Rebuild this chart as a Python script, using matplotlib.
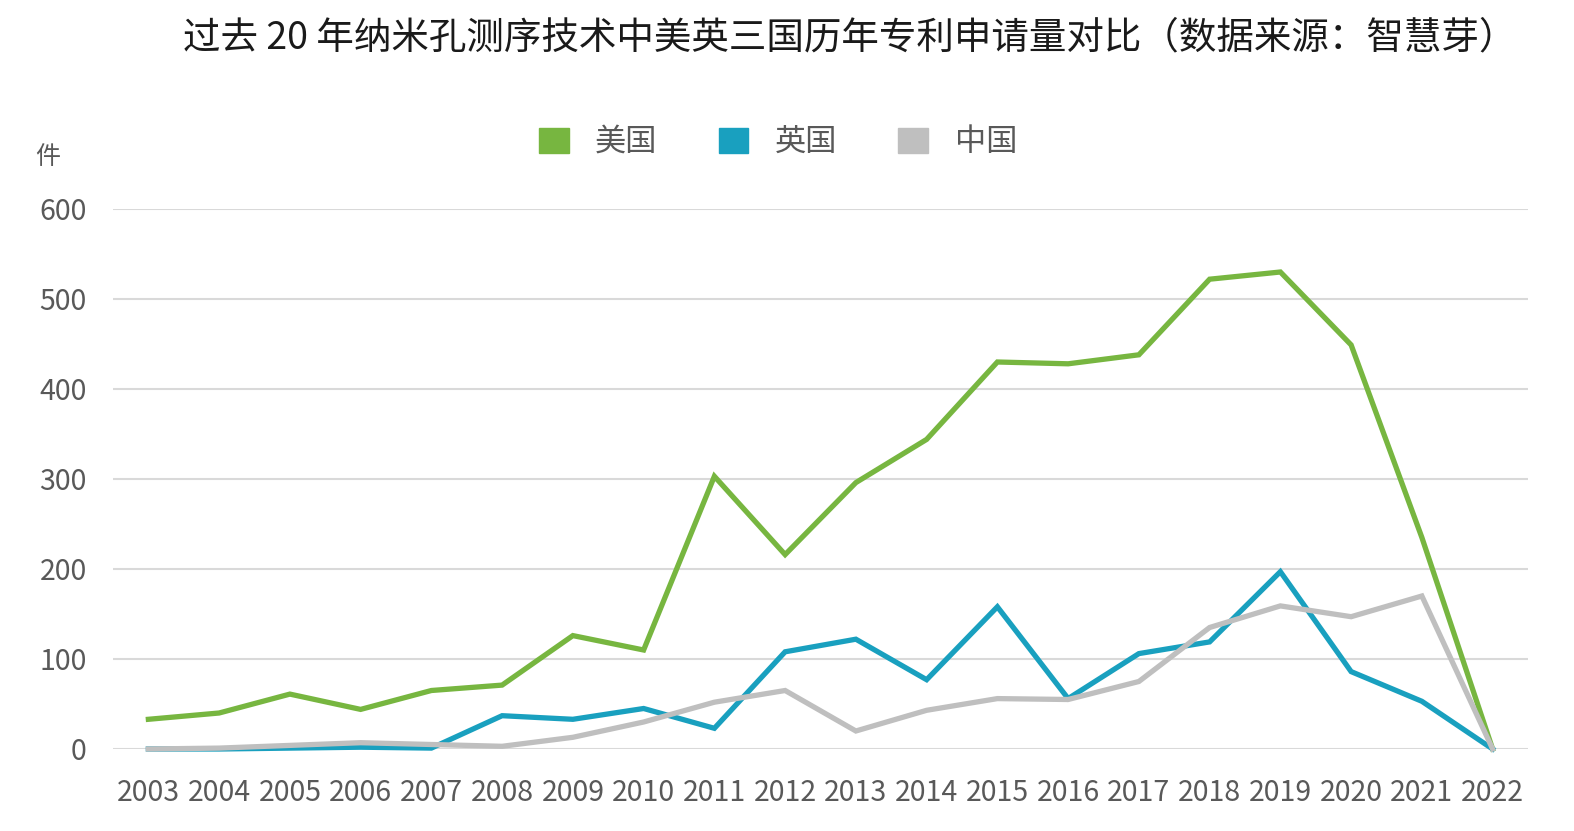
import matplotlib
matplotlib.use("Agg")
import matplotlib.pyplot as plt

plt.rcParams['font.family'] = ['Noto Sans CJK SC', 'DejaVu Sans']

years = list(range(2003, 2023))
us = [33, 40, 61, 44, 65, 71, 126, 110, 303, 216, 296, 344, 430, 428, 438, 522, 530, 449, 235, 0]
uk = [0, 0, 1, 2, 1, 37, 33, 45, 23, 108, 122, 77, 158, 56, 106, 119, 197, 86, 53, 0]
cn = [0, 1, 4, 7, 5, 3, 13, 30, 52, 65, 20, 43, 56, 55, 75, 135, 159, 147, 170, 0]
series_names = ['美国', '英国', '中国']
colors = ['#77b640', '#19a0bf', '#bfbfbf']
title = '过去 20 年纳米孔测序技术中美英三国历年专利申请量对比（数据来源：智慧芽）'
yticks = [0, 100, 200, 300, 400, 500, 600]

fig = plt.figure(figsize=(15.74, 8.31), dpi=100)
ax = fig.add_axes([113/1574, 1-749/831, (1528-113)/1574, (749-209)/831])

for vals, name, c in zip([us, uk, cn], series_names, colors):
    ax.plot(years, vals, color=c, lw=3.8, label=name, solid_joinstyle='miter', zorder=3)

ax.set_xlim(2002.5, 2022.5)
ax.set_ylim(0, 600)
ax.set_yticks(yticks)
ax.set_xticks(years)
ax.set_xticklabels([str(y) for y in years])
ax.grid(axis='y', color='#d9d9d9', lw=1.5, zorder=0)
for s in ax.spines.values():
    s.set_visible(False)
ax.tick_params(axis='both', length=0, labelsize=20.5, labelcolor='#595959')
ax.tick_params(axis='y', pad=19)
ax.tick_params(axis='x', pad=21)
for lab in ax.get_xticklabels() + ax.get_yticklabels():
    lab.set_fontweight('light')
for line in ax.lines:
    line.set_clip_on(False)

fig.text(48/1574, 1-157/831, '件', fontsize=18, color='#595959', ha='center', va='center', fontweight='light')
fig.text(850/1574, 1-38/831, title, fontsize=27, color='#1a1a1a', ha='center', va='center', fontweight='medium')

handles = [plt.Rectangle((0, 0), 1, 1, color=c) for c in colors]
fig.legend(handles, series_names, loc='center', bbox_to_anchor=(778/1574, 1-142/831), ncol=3,
           frameon=False, handlelength=0.95, handleheight=0.85, columnspacing=1.95,
           handletextpad=0.85, labelcolor='#595959', prop={'weight': 'light', 'size': 22.5})

fig.savefig('out.png', dpi=100)
